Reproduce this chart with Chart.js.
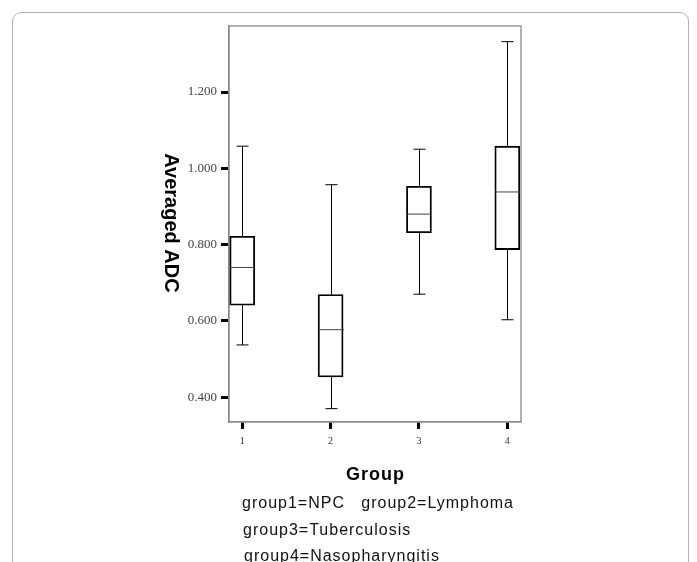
<!DOCTYPE html>
<html><head><meta charset="utf-8">
<script src="https://cdn.jsdelivr.net/npm/chart.js@4"></script>
<style>
html,body{margin:0;padding:0;background:#fff;}
#wrap{position:relative;width:697px;height:562px;overflow:hidden;background:#fff;}
#frame{position:absolute;left:12px;top:12px;width:677px;height:620px;border:1px solid #b4b4b4;border-radius:9px;box-sizing:border-box;}
#c{position:absolute;left:0;top:0;}
</style></head><body>
<div id="wrap"><div id="frame"></div><canvas id="c" width="697" height="562"></canvas></div>
<script>
// ---- data ----
const categories = ['1', '2', '3', '4'];
const whiskerLow  = [0.537, 0.370, 0.670, 0.603];
const q1Values    = [0.641, 0.453, 0.831, 0.787];
const medianValues= [0.740, 0.577, 0.880, 0.938];
const q3Values    = [0.822, 0.669, 0.953, 1.058];
const whiskerHigh = [1.058, 0.957, 1.050, 1.332];
const yTickValues = [0.4, 0.6, 0.8, 1.0, 1.2];
const yTickLabels = ['0.400', '0.600', '0.800', '1.000', '1.200'];
const xTitle = 'Group';
const yTitle = 'Averaged ADC';
const captionLines = ['group1=NPC   group2=Lymphoma', 'group3=Tuberculosis', 'group4=Nasopharyngitis'];

const boxData = categories.map((c, i) => ({ x: i + 1, y: [q1Values[i], q3Values[i]] }));

const boxPlugin = {
  id: 'boxParts',
  beforeDatasetsDraw(chart) {
    const ctx = chart.ctx, a = chart.chartArea;
    ctx.save();
    ctx.strokeStyle = '#8a8a8a';
    ctx.lineWidth = 1.3;
    ctx.strokeRect(a.left, a.top, a.right - a.left, a.bottom - a.top);
    ctx.restore();
  },
  afterDatasetsDraw(chart) {
    const ctx = chart.ctx;
    const xs = chart.scales.x, ys = chart.scales.y;
    const meta = chart.getDatasetMeta(0);
    ctx.save();
    categories.forEach((c, i) => {
      const px = Math.round(xs.getPixelForValue(i + 1)) + 0.5;
      const half = meta.data[i].width / 2;
      const capHalf = 6;
      const yLo = ys.getPixelForValue(whiskerLow[i]);
      const yQ1 = ys.getPixelForValue(q1Values[i]);
      const yMed = ys.getPixelForValue(medianValues[i]);
      const yQ3 = ys.getPixelForValue(q3Values[i]);
      const yHi = ys.getPixelForValue(whiskerHigh[i]);
      ctx.strokeStyle = '#000';
      ctx.lineWidth = 1;
      ctx.beginPath();
      ctx.moveTo(px, yQ3); ctx.lineTo(px, yHi);
      ctx.moveTo(px, yQ1); ctx.lineTo(px, yLo);
      ctx.moveTo(px - capHalf, yHi); ctx.lineTo(px + capHalf, yHi);
      ctx.moveTo(px - capHalf, yLo); ctx.lineTo(px + capHalf, yLo);
      ctx.stroke();
      ctx.strokeStyle = '#444';
      ctx.beginPath();
      ctx.moveTo(px - half, yMed); ctx.lineTo(px + half, yMed);
      ctx.stroke();
    });
    ctx.restore();
  },
  afterDraw(chart) {
    const ctx = chart.ctx;
    ctx.save();
    ctx.fillStyle = '#000';
    // y title, rotated clockwise
    ctx.translate(171, 223);
    ctx.rotate(Math.PI / 2);
    ctx.font = "bold 20px 'Liberation Sans', Arial, sans-serif";
    ctx.textAlign = 'center';
    ctx.textBaseline = 'middle';
    ctx.fillText(yTitle, 0, 0);
    ctx.restore();

    ctx.save();
    ctx.fillStyle = '#000';
    ctx.font = "bold 18px 'Liberation Sans', Arial, sans-serif";
    ctx.textAlign = 'left';
    ctx.textBaseline = 'alphabetic';
    try { ctx.letterSpacing = '1px'; } catch (e) {}
    const w = ctx.measureText(xTitle).width;
    ctx.fillText(xTitle, 375.5 - w / 2, 480);
    ctx.font = "16px 'Liberation Sans', Arial, sans-serif";
    ctx.fillStyle = '#111';
    const lineX = [242, 243, 244];
    const lineY = [508, 535, 561];
    captionLines.forEach((t, i) => ctx.fillText(t, lineX[i], lineY[i]));
    ctx.restore();
  }
};

new Chart(document.getElementById('c'), {
  type: 'bar',
  data: {
    datasets: [{
      data: boxData,
      backgroundColor: 'rgba(255,255,255,0)',
      borderColor: '#000',
      borderWidth: 1.2,
      borderSkipped: false,
      barThickness: 25
    }]
  },
  options: {
    responsive: false,
    animation: false,
    devicePixelRatio: 1,
    layout: { padding: { left: 0, top: 26, right: 176, bottom: 0 } },
    plugins: { legend: { display: false }, tooltip: { enabled: false } },
    scales: {
      x: {
        type: 'linear',
        min: 0.85,
        max: 4.155,
        offset: false,
        afterBuildTicks: s => { s.ticks = categories.map((c, i) => ({ value: i + 1 })); },
        afterFit: s => { s.height = 140; },
        ticks: {
          callback: (v, i) => categories[i],
          font: { family: "'Liberation Serif', 'Times New Roman', serif", size: 10 },
          color: '#333',
          padding: 6,
          maxRotation: 0
        },
        grid: { offset: false, drawOnChartArea: false, drawTicks: true, tickLength: 7, tickWidth: 3, tickColor: '#000' },
        border: { display: true, color: '#8a8a8a', width: 1.3 }
      },
      y: {
        type: 'linear',
        min: 0.335,
        max: 1.373,
        afterBuildTicks: s => { s.ticks = yTickValues.map(v => ({ value: v })); },
        afterFit: s => { s.width = 229; },
        ticks: {
          callback: (v, i) => yTickLabels[i],
          font: { family: "'Liberation Serif', 'Times New Roman', serif", size: 13 },
          color: '#444',
          padding: 4
        },
        grid: { drawOnChartArea: false, drawTicks: true, tickLength: 8, tickWidth: 3, tickColor: '#000' },
        border: { display: true, color: '#8a8a8a', width: 1.3 }
      }
    }
  },
  plugins: [boxPlugin]
});
</script>
</body></html>
